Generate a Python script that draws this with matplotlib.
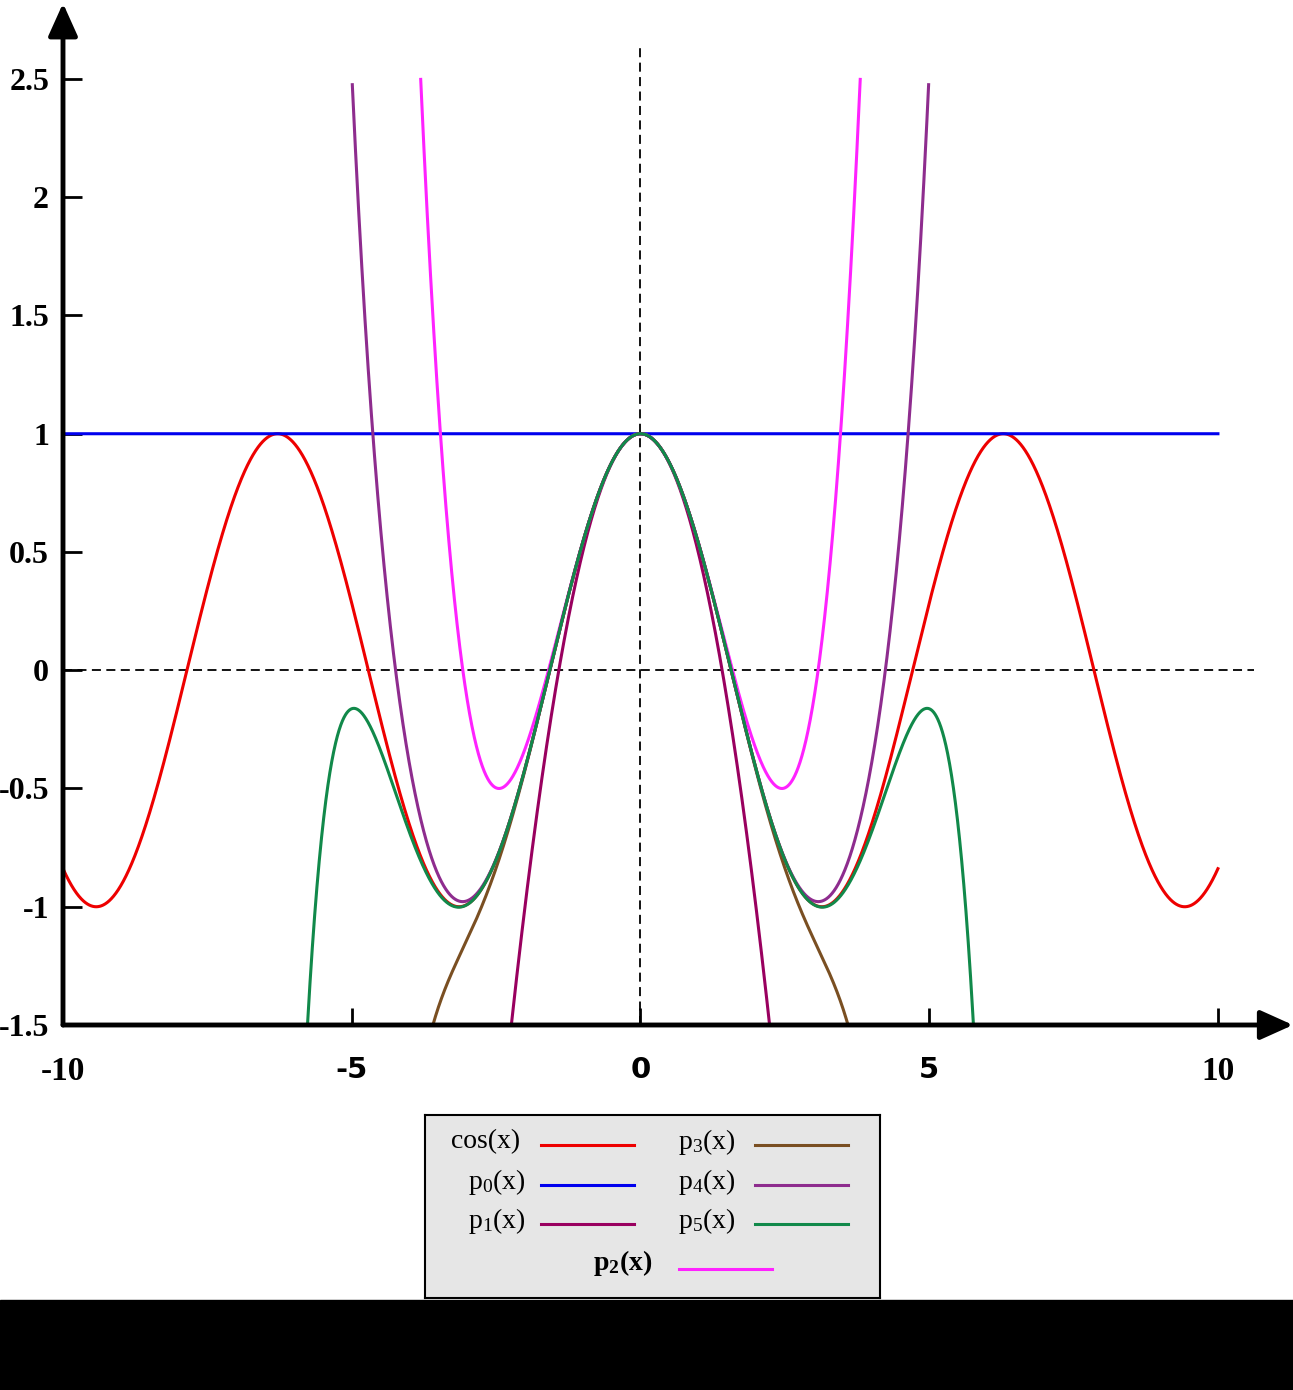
import numpy as np
import matplotlib.pyplot as plt
from math import factorial

plt.rcParams['font.family'] = ['Liberation Serif', 'DejaVu Serif']
plt.rcParams['mathtext.fontset'] = 'custom'
plt.rcParams['mathtext.rm'] = 'Liberation Serif'
plt.rcParams['mathtext.it'] = 'Liberation Serif:italic'
plt.rcParams['mathtext.bf'] = 'Liberation Serif:bold'

# Taylor polynomials of cos(x): order n keeps the terms x^0 .. x^(2n)
orders = [0, 1, 2, 3, 4, 5]
labels = ['p$_0$(x)', 'p$_1$(x)', 'p$_2$(x)', 'p$_3$(x)', 'p$_4$(x)', 'p$_5$(x)']
colors = ['#0000ee', '#99005f', '#ff22ff', '#7a4f22', '#8e2c8e', '#11894a']
domains = [(-10, 10), (-10, 10), (-10, 10), (-10, 10), (-4.99, 4.99), (-10, 10)]
cos_color = '#ee0000'

xticks = [-10, -5, 0, 5, 10]
yticks = [-1.5, -1, -0.5, 0, 0.5, 1, 1.5, 2, 2.5]
ytick_labels = ['-1.5', '-1', '-0.5', '0', '0.5', '1', '1.5', '2', '2.5']
ymin, ymax = -1.5, 2.5


def taylor(x, n):
    y = np.zeros_like(x)
    for k in range(n + 1):
        y += (-1) ** k * x ** (2 * k) / factorial(2 * k)
    return y


W, H = 1293, 1390
fig = plt.figure(figsize=(W / 100, H / 100), dpi=100)
ax = fig.add_axes([63 / W, (H - 1025) / H, (W - 63) / W, 1021.7 / H])
ax.set_xlim(-10, 11.3)
ax.set_ylim(-1.5, 2.82)
for s in ax.spines.values():
    s.set_visible(False)

# dashed zero lines
ax.plot([0, 0], [-1.5, 2.64], ls=(0, (5, 3)), color='k', lw=1.3)
ax.plot([-10, 10.63], [0, 0], ls=(0, (5, 3)), color='k', lw=1.3)

x = np.linspace(-10, 10, 4000)
ax.plot(x, np.cos(x), color=cos_color, lw=2.2)
for i in range(len(orders)):
    a, b = domains[i]
    xs = np.linspace(a, b, 6000)
    ys = taylor(xs, orders[i])
    ys[(ys < ymin - 0.005) | (ys > ymax)] = np.nan
    ax.plot(xs, ys, color=colors[i], lw=2.2)

# axes with arrows
arrow = dict(arrowstyle='-|>,head_length=1.0,head_width=0.45', mutation_scale=20,
             lw=3.5, color='k', shrinkA=0, shrinkB=0)
ax.annotate('', xy=(11.3, -1.5), xytext=(-10, -1.5), annotation_clip=False, arrowprops=arrow)
ax.annotate('', xy=(-10, 2.82), xytext=(-10, -1.5), annotation_clip=False, arrowprops=arrow)

ax.set_xticks(xticks)
ax.set_xticklabels([str(t) for t in xticks], fontsize=24, fontweight='bold')
ax.set_yticks(yticks)
ax.set_yticklabels(ytick_labels, fontsize=23, fontweight='bold')
ax.tick_params(axis='x', direction='in', length=12, width=2, pad=22)
ax.tick_params(axis='y', direction='in', length=14, width=2, pad=10)
for lab in ax.get_xticklabels():
    if lab.get_text() in ('-5', '5', '0'):
        lab.set_fontfamily('DejaVu Sans')
        lab.set_fontsize(21)

# legend box
lx0, ly0, lw_, lh_ = 425, 1115, 455, 183
lax = fig.add_axes([lx0 / W, (H - ly0 - lh_) / H, lw_ / W, lh_ / H])
lax.set_facecolor('#e6e6e6')
lax.set_xlim(0, lw_)
lax.set_ylim(lh_, 0)
lax.set_xticks([])
lax.set_yticks([])
for s in lax.spines.values():
    s.set_linewidth(1.5)

entries = [('cos(x)', cos_color, 95, 116, 27),
           (labels[0], colors[0], 101, 116, 67),
           (labels[1], colors[1], 101, 116, 106),
           (labels[3], colors[3], 311, 330, 27),
           (labels[4], colors[4], 311, 330, 67),
           (labels[5], colors[5], 311, 330, 106)]
for text, c, tx, lx, ty in entries:
    lax.text(tx, ty, text, fontsize=20, ha='right', va='center')
    lax.plot([lx, lx + 93], [ty + 3, ty + 3], color=c, lw=2.2)
lax.text(227, 148, 'p$_\\mathbf{2}$(x)', fontsize=20, fontweight='bold', ha='right', va='center')
lax.plot([254, 347], [154, 154], color=colors[2], lw=2.2)

# dark strip at the bottom
fig.patches.append(plt.Rectangle((0, 0), 1, 90 / H, transform=fig.transFigure,
                                 color='black', zorder=-1))

fig.savefig('out.png', dpi=100)
